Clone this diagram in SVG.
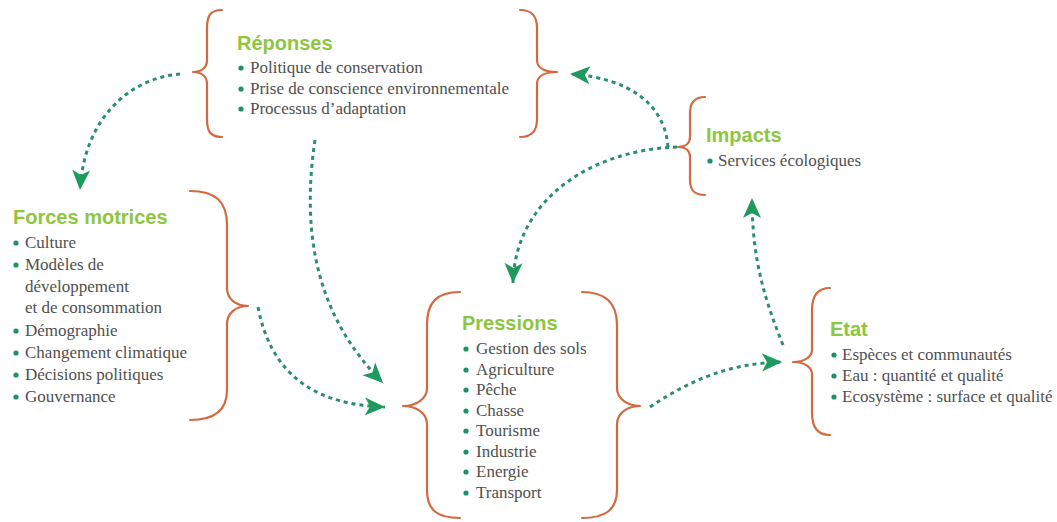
<svg xmlns="http://www.w3.org/2000/svg" width="1057" height="522" viewBox="0 0 1057 522">
<style>
.brace{fill:none;stroke:#d4693f;stroke-width:2.2;stroke-linecap:round;stroke-linejoin:round}
.title{font-family:"Liberation Sans",Arial,sans-serif;font-weight:bold;font-size:20px;fill:#8dc63f}
.item{font-family:"Liberation Serif","Times New Roman",serif;font-size:17px;fill:#505050}
.dot{fill:#1e9068}
.conn{fill:none;stroke:#2b8f6b;stroke-width:3;stroke-dasharray:4 4}
</style>
<defs>
<marker id="ah" markerUnits="userSpaceOnUse" markerWidth="24" markerHeight="22" refX="20" refY="10" orient="auto">
<path d="M0,1 L20,10 L0,19 L5,10 z" fill="#1c9b5c"/>
</marker>
</defs>
<rect width="1057" height="522" fill="#ffffff"/>

<g id="reponses">
<path class="brace" d="M222,10 C210,10 207,16 207,28 L207,60 C207,68 201,72 193,72 C201,72 207,76 207,84 L207,119 C207,131 210,137 222,137"/>
<path class="brace" d="M520,10 C532,10 537,16 537,28 L537,60 C537,68 545,72 557,72 C545,72 537,76 537,84 L537,119 C537,131 532,137 520,137"/>
<text class="title" x="237" y="50">Réponses</text>
<circle class="dot" cx="241" cy="68" r="2.6"/><text class="item" x="250" y="73">Politique de conservation</text>
<circle class="dot" cx="241" cy="89" r="2.6"/><text class="item" x="250" y="94">Prise de conscience environnementale</text>
<circle class="dot" cx="241" cy="109" r="2.6"/><text class="item" x="250" y="114">Processus d’adaptation</text>
</g>

<g id="impacts">
<path class="brace" d="M705,97 C694,97 690,103 690,113 L690,137 C690,143 686,147 678,147 C686,147 690,151 690,157 L690,180 C690,190 694,195 705,195"/>
<text class="title" x="706" y="142">Impacts</text>
<circle class="dot" cx="710" cy="161" r="2.6"/><text class="item" x="718" y="166">Services écologiques</text>
</g>

<g id="forces">
<path class="brace" d="M190,191 C215,191 227,201 227,225 L227,288 C227,299 236,306 248,306 C236,306 227,313 227,324 L227,390 C227,410 215,420 190,420"/>
<text class="title" x="13" y="224">Forces motrices</text>
<circle class="dot" cx="16" cy="243" r="2.6"/><text class="item" x="25" y="248">Culture</text>
<circle class="dot" cx="16" cy="265" r="2.6"/><text class="item" x="25" y="270">Modèles de</text>
<text class="item" x="25" y="292">développement</text>
<text class="item" x="25" y="313">et de consommation</text>
<circle class="dot" cx="16" cy="331" r="2.6"/><text class="item" x="25" y="336">Démographie</text>
<circle class="dot" cx="16" cy="353" r="2.6"/><text class="item" x="25" y="358">Changement climatique</text>
<circle class="dot" cx="16" cy="375" r="2.6"/><text class="item" x="25" y="380">Décisions politiques</text>
<circle class="dot" cx="16" cy="397" r="2.6"/><text class="item" x="25" y="402">Gouvernance</text>
</g>

<g id="pressions">
<path class="brace" d="M460,292 C437,292 427,302 427,325 L427,388 C427,399 416,406 403,406 C416,406 427,413 427,424 L427,490 C427,510 437,518 460,518"/>
<path class="brace" d="M582,292 C605,292 617,302 617,325 L617,388 C617,399 628,406 640,406 C628,406 617,413 617,424 L617,490 C617,510 605,518 582,518"/>
<text class="title" x="462" y="330">Pressions</text>
<circle class="dot" cx="466" cy="349" r="2.6"/><text class="item" x="476" y="354">Gestion des sols</text>
<circle class="dot" cx="466" cy="370" r="2.6"/><text class="item" x="476" y="375">Agriculture</text>
<circle class="dot" cx="466" cy="390" r="2.6"/><text class="item" x="476" y="395">Pêche</text>
<circle class="dot" cx="466" cy="411" r="2.6"/><text class="item" x="476" y="416">Chasse</text>
<circle class="dot" cx="466" cy="431" r="2.6"/><text class="item" x="476" y="436">Tourisme</text>
<circle class="dot" cx="466" cy="452" r="2.6"/><text class="item" x="476" y="457">Industrie</text>
<circle class="dot" cx="466" cy="472" r="2.6"/><text class="item" x="476" y="477">Energie</text>
<circle class="dot" cx="466" cy="493" r="2.6"/><text class="item" x="476" y="498">Transport</text>
</g>

<g id="etat">
<path class="brace" d="M830,288 C817,288 812,296 812,310 L812,350 C812,357 804,362 793,362 C804,362 812,367 812,374 L812,413 C812,427 817,435 830,435"/>
<text class="title" x="830" y="336">Etat</text>
<circle class="dot" cx="834" cy="355" r="2.6"/><text class="item" x="842" y="360">Espèces et communautés</text>
<circle class="dot" cx="834" cy="376" r="2.6"/><text class="item" x="842" y="381">Eau : quantité et qualité</text>
<circle class="dot" cx="834" cy="397" r="2.6"/><text class="item" x="842" y="402">Ecosystème : surface et qualité</text>
</g>

<g id="connectors">
<path class="conn" marker-end="url(#ah)" d="M180,74 C130,78 84,118 80,190"/>
<path class="conn" marker-end="url(#ah)" d="M315,140 C300,240 320,320 383,383"/>
<path class="conn" marker-end="url(#ah)" d="M258,307 C270,370 310,405 385,407"/>
<path class="conn" marker-end="url(#ah)" d="M650,407 C690,380 730,363 782,362"/>
<path class="conn" marker-end="url(#ah)" d="M783,345 C765,300 752,260 752,198"/>
<path class="conn" marker-end="url(#ah)" d="M668,147 C665,105 630,78 570,74"/>
<path class="conn" marker-end="url(#ah)" d="M677,147 C590,150 515,200 513,283"/>
</g>
</svg>
